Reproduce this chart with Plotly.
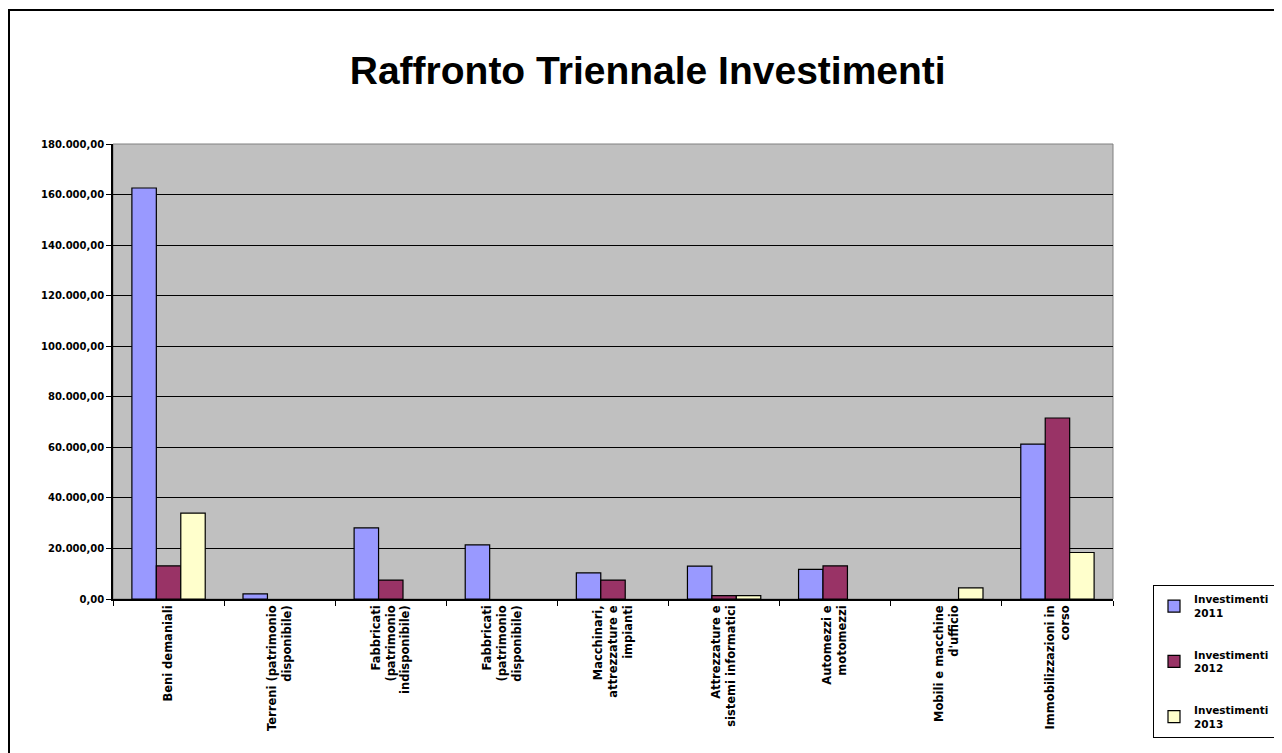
import plotly.graph_objects as go

categories = [
    "Beni demaniali",
    "Terreni (patrimonio<br>disponibile)",
    "Fabbricati<br>(patrimonio<br>indisponibile)",
    "Fabbricati<br>(patrimonio<br>disponibile)",
    "Macchinari,<br>attrezzature e<br>impianti",
    "Attrezzature e<br>sistemi informatici",
    "Automezzi e<br>motomezzi",
    "Mobili e macchine<br>d'ufficio",
    "Immobilizzazioni in<br>corso",
]
# None = no investment in that year (no bar drawn)
inv_2011 = [162600, 2000, 28100, 21400, 10300, 13000, 11700, None, 61300]
inv_2012 = [13100, None, 7500, None, 7500, 1300, 13100, None, 71600]
inv_2013 = [34000, None, None, None, None, 1300, None, 4400, 18400]

y_ticks = list(range(0, 180001, 20000))
y_labels = ["0,00", "20.000,00", "40.000,00", "60.000,00", "80.000,00",
            "100.000,00", "120.000,00", "140.000,00", "160.000,00", "180.000,00"]

series = [
    ("Investimenti<br>2011", inv_2011, "#9999FF"),
    ("Investimenti<br>2012", inv_2012, "#993366"),
    ("Investimenti<br>2013", inv_2013, "#FFFFCC"),
]

fig = go.Figure()
for name, vals, color in series:
    fig.add_trace(go.Bar(name=name, x=categories, y=vals, legendgroup=name,
                         marker=dict(color=color, line=dict(color="black", width=1.2))))

fig.update_layout(
    width=1282, height=753,
    margin=dict(l=105, r=177, t=136, b=162),
    paper_bgcolor="white", plot_bgcolor="#C0C0C0",
    barmode="group", bargap=0.34, bargroupgap=0,
    font=dict(family="DejaVu Sans", color="black"),
    title=dict(text="Raffronto Triennale Investimenti", x=0.499, xanchor="center",
               y=0.9177, yanchor="middle",
               font=dict(size=39, family="Liberation Sans, Arial", weight="bold")),
    legend=dict(x=1.04, xanchor="left", y=0.031, yanchor="top",
                bordercolor="black", borderwidth=1, bgcolor="white",
                font=dict(size=10.5, weight="bold"), itemwidth=30,
                tracegroupgap=25),
    showlegend=True,
)
fig.update_yaxes(range=[0, 180000], tickvals=y_ticks, ticktext=y_labels,
                 showgrid=True, gridcolor="black", gridwidth=1.2,
                 showline=True, linecolor="black", linewidth=1.5,
                 ticks="outside", ticklen=5, tickcolor="black",
                 tickfont=dict(size=10, weight="bold"), zeroline=False)
fig.update_xaxes(tickangle=-90, tickson="boundaries",
                 showline=True, linecolor="black", linewidth=1.5,
                 ticks="outside", ticklen=5, tickcolor="black",
                 tickfont=dict(size=11.5, weight="bold"))

# plot area outline and outer frame
fig.add_shape(type="rect", xref="paper", yref="paper", x0=0, y0=0, x1=1, y1=1,
              line=dict(color="#808080", width=1), layer="below")
fig.add_shape(type="rect", xref="paper", yref="paper", x0=-0.104, y0=-0.4,
              x1=1.25, y1=1.2945, line=dict(color="black", width=2))

fig.write_html("out.html")
